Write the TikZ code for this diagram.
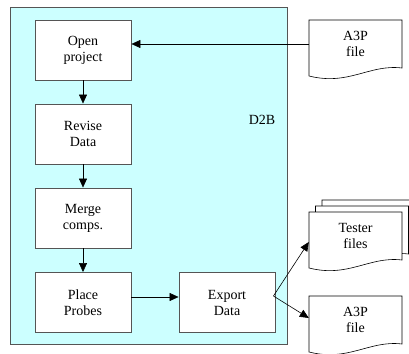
\documentclass[tikz,border=0pt]{standalone}
\usepackage{fontspec}
\setmainfont{Liberation Serif}
\usetikzlibrary{arrows.meta}
\definecolor{bgcyan}{HTML}{CCFFFF}
\definecolor{edgegray}{HTML}{555555}
\tikzset{
  procbox/.style={draw=edgegray, line width=0.9pt, fill=white, minimum width=96pt, minimum height=60pt, inner sep=0pt, align=center, font=\fontsize{14}{17}\selectfont},
  doctext/.style={minimum width=93pt, minimum height=48pt, inner sep=0pt, align=center, font=\fontsize{14}{17}\selectfont},
  docline/.style={draw=black, line width=0.6pt, fill=white},
  arr/.style={draw=black, line width=0.6pt, -{Triangle[length=9pt,width=8pt]}},
  conn/.style={draw=black, line width=0.6pt},
  pics/docshape/.style={code={
    \path[docline] (0,0) -- (93,0) -- (93,48) .. controls (60,44) and (40,66) .. (0,56) -- cycle;
  }}
}
\begin{document}
\begin{tikzpicture}[x=1pt,y=-1pt]
\useasboundingbox (0,0) rectangle (409,353);
% D2B system box
\path[draw=edgegray, line width=0.9pt, fill=bgcyan] (10.5,7.5) rectangle (287,344);
\node[font=\fontsize{14}{17}\selectfont] (d2b) at (262,120) {D2B};
% process boxes
\node[procbox] (open) at (83,50) {Open\\[-1pt]project};
\node[procbox] (revise) at (83,134) {Revise\\[-1pt]Data};
\node[procbox] (merge) at (83,218) {Merge\\[-1pt]comps.};
\node[procbox] (place) at (83,302.5) {Place\\[-1pt]Probes};
\node[procbox] (export) at (227,302.5) {Export\\[-1pt]Data};
% A3P input file
\pic at (309,20) {docshape};
\node[doctext] (a3pin) at (355.5,44) {A3P\\[-1pt]file};
% tester files (stack)
\pic at (322,200) {docshape};
\pic at (315.5,206) {docshape};
\pic at (309,212) {docshape};
\node[doctext] (tester) at (355.5,236) {Tester\\[-1pt]files};
% A3P output file
\pic at (309,296) {docshape};
\node[doctext] (a3pout) at (355.5,320) {A3P\\[-1pt]file};
% connectors
\draw[arr] (a3pin.west) -- (open.east |- a3pin.west);
\draw[arr] (open) -- (revise);
\draw[arr] (revise) -- (merge);
\draw[arr] (merge) -- (place);
\draw[arr] ([yshift=5.5pt]place.east) -- ([yshift=5.5pt]export.west);
\coordinate (split) at ([xshift=-2pt,yshift=6.5pt]export.east);
\draw[arr] (split) -- ([yshift=-6pt]tester.west);
\draw[arr] (split) -- ([yshift=2pt]a3pout.west);
\end{tikzpicture}
\end{document}
